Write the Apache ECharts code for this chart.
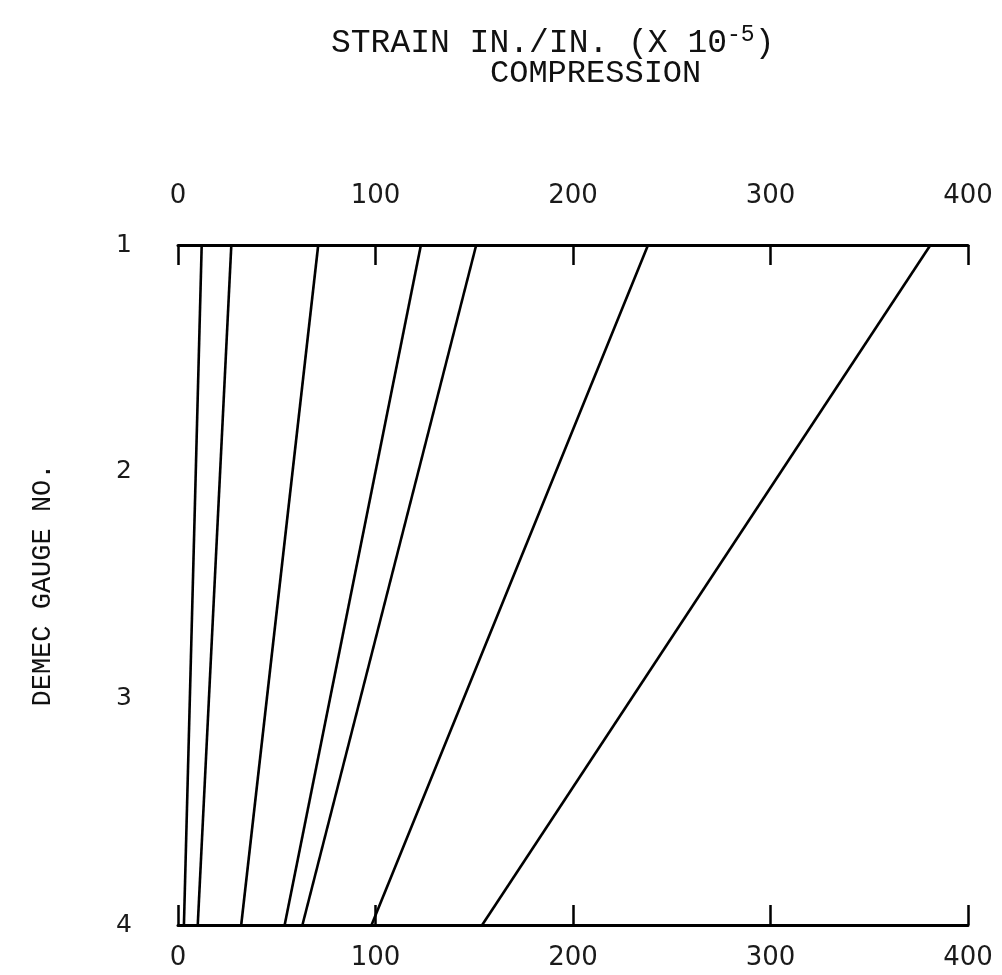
<!DOCTYPE html>
<html>
<head>
<meta charset="utf-8">
<script src="https://cdn.jsdelivr.net/npm/echarts@6/dist/echarts.min.js"></script>
<style>
html,body{margin:0;padding:0;background:#fff;}
#chart{width:1002px;height:975px;}
</style>
</head>
<body>
<div id="chart"></div>
<script>
// Demec gauge numbers (y axis, top to bottom)
const gaugeNos = [1, 2, 3, 4];
// Strain tick labels (x 10^-5)
const strainTicks = [0, 100, 200, 300, 400];
// Strain at gauge 1 (top) for each load line
const strainAtGauge1 = [12, 27, 71, 123, 151, 238, 381];
// Strain at gauge 4 (bottom) for each load line
const strainAtGauge4 = [3, 10, 32, 54, 63, 98, 154];

const chart = echarts.init(document.getElementById('chart'), null, {renderer: 'canvas'});

const series = strainAtGauge1.map((v, i) => ({
  type: 'line',
  xAxisIndex: 0,
  yAxisIndex: 0,
  symbol: 'none',
  silent: true,
  lineStyle: {color: '#000', width: 2.6},
  data: [[v, gaugeNos[0]], [strainAtGauge4[i], gaugeNos[gaugeNos.length - 1]]]
}));

const typeFont = 'Liberation Mono';
const handFont = 'DejaVu Sans';

const xAxisCommon = {
  type: 'value',
  min: strainTicks[0],
  max: strainTicks[strainTicks.length - 1],
  interval: 100,
  splitLine: {show: false},
  axisLine: {show: true, onZero: false, lineStyle: {color: '#000', width: 3}},
  axisTick: {show: true, inside: true, length: 20, lineStyle: {color: '#000', width: 2.5}},
  axisLabel: {color: '#1a1a1a', fontFamily: handFont, fontSize: 26, fontWeight: 'normal'}
};

const option = {
  backgroundColor: '#fff',
  animation: false,
  title: [
    {
      text: 'STRAIN IN./IN. (X 10{sup|-5})',
      left: 326, top: 18,
      textStyle: {
        fontFamily: typeFont, fontSize: 33, fontWeight: 'normal', color: '#111',
        rich: {sup: {fontFamily: typeFont, fontSize: 23, color: '#111', verticalAlign: 'top', lineHeight: 40}}
      }
    },
    {
      text: 'COMPRESSION',
      left: 485, top: 53,
      textStyle: {fontFamily: typeFont, fontSize: 32, fontWeight: 'normal', color: '#111'}
    }
  ],
  grid: {left: 178, right: 34, top: 245, bottom: 50, containLabel: false},
  xAxis: [
    Object.assign({}, xAxisCommon, {
      position: 'top',
      axisLabel: Object.assign({}, xAxisCommon.axisLabel, {margin: 36})
    }),
    Object.assign({}, xAxisCommon, {
      position: 'bottom',
      axisLabel: Object.assign({}, xAxisCommon.axisLabel, {margin: 20})
    })
  ],
  yAxis: {
    type: 'value',
    inverse: true,
    min: gaugeNos[0],
    max: gaugeNos[gaugeNos.length - 1],
    interval: 1,
    name: 'DEMEC GAUGE NO.',
    nameLocation: 'middle',
    nameRotate: 90,
    nameGap: 122,
    nameTextStyle: {fontFamily: typeFont, fontSize: 27, color: '#111'},
    axisLine: {show: false},
    axisTick: {show: false},
    splitLine: {show: false},
    axisLabel: {color: '#1a1a1a', fontFamily: handFont, fontSize: 25, margin: 46,
      verticalAlign: 'middle', padding: [0, 0, 10, 0],
      formatter: v => String(v)}
  },
  series: series
};

chart.setOption(option);
</script>
</body>
</html>
